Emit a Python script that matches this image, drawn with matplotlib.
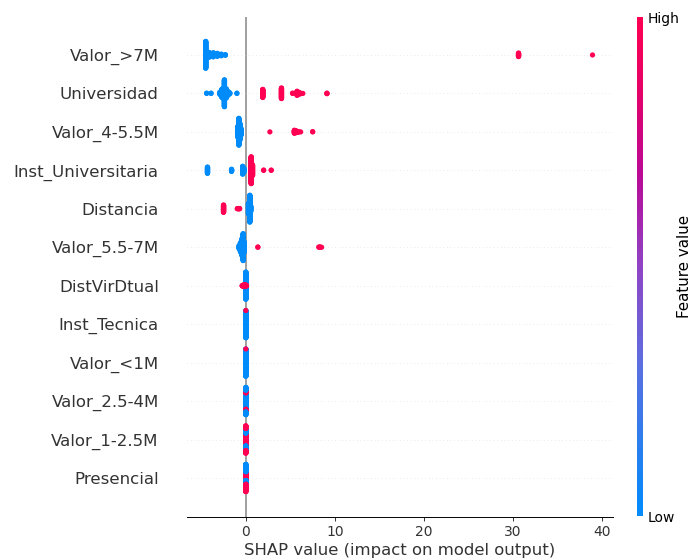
import numpy as np
import matplotlib
matplotlib.use('Agg')
import matplotlib.pyplot as plt
from matplotlib.colors import LinearSegmentedColormap

# features, top to bottom
features = ['Valor_>7M', 'Universidad', 'Valor_4-5.5M', 'Inst_Universitaria',
            'Distancia', 'Valor_5.5-7M', 'DistVirDtual', 'Inst_Tecnica',
            'Valor_<1M', 'Valor_2.5-4M', 'Valor_1-2.5M', 'Presencial']

# clusters: (shap value, number of samples, feature value)
# feature value 0 = low, 1 = high; a pair (below, above) splits a stack by side
valor_7m = [(-4.5, 100, 0), (-4.1, 18, 0), (-3.65, 16, 0), (-3.2, 12, 0),
            (-2.75, 7, 0), (-2.3, 3, 0), (30.6, 14, 1), (38.9, 1, 1)]
universidad = [(-4.4, 2, 0), (-3.9, 2, 0), (-2.9, 10, 0), (-2.7, 30, 0),
               (-2.55, 38, 0), (-2.4, 100, 0), (-2.2, 35, 0), (-2.0, 15, 0),
               (-1.8, 4, 0), (-1.0, 2, 0),
               (1.9, 31, 1), (4.0, 40, 1), (5.25, 2, 1), (5.75, 16, 1),
               (5.95, 8, 1), (6.15, 3, 1), (6.4, 1, 1), (9.1, 3, 1)]
valor_45 = [(-0.9, 40, 0), (-0.78, 100, 0), (-0.66, 60, 0), (-0.54, 25, 0),
            (2.7, 1, 1), (5.45, 12, 1), (5.65, 8, 1), (5.9, 3, 1), (6.15, 1, 1),
            (7.5, 2, 1)]
inst_univ = [(-4.3, 24, 0), (-1.6, 9, 0), (-0.35, 30, 0), (-0.2, 12, 0),
             (0.6, 100, 1), (0.75, 40, 1), (2.0, 2, 1), (2.85, 2, 1)]
distancia = [(-2.5, 28, 1), (-0.95, 2, 1), (-0.8, 2, 1), (-0.7, 2, 1),
             (0.3, 40, 0), (0.45, 100, 0), (0.55, 20, 0)]
valor_557 = [(-0.75, 12, 0), (-0.6, 35, 0), (-0.45, 60, 0), (-0.3, 100, 0),
             (-0.2, 40, 0), (1.35, 2, 1), (8.2, 2, 1), (8.35, 2, 1), (8.5, 1, 1)]
distvirtual = [(0.0, 160, 0), (-0.4, 3, 1), (-0.28, 8, 1), (-0.16, 12, 1),
               (-0.05, 10, 1), (0.07, 4, 1)]
inst_tecnica = [(0.0, 199, 0), (0.0, 1, 1)]
valor_1m = [(0.0, 199, 0), (0.0, 1, 1)]
valor_254 = [(0.0, 8, 1), (0.0, 110, 0), (0.0, 40, 1), (0.0, 42, 0)]
valor_125 = [(0.0, 12, 0), (0.0, 80, 1), (0.0, 68, 0), (0.0, 40, 1)]
presencial = [(0.0, 30, 1), (0.0, 60, (0, 1)), (0.0, 110, (1, 0))]

rows = [valor_7m, universidad, valor_45, inst_univ, distancia, valor_557,
        distvirtual, inst_tecnica, valor_1m, valor_254, valor_125, presencial]

cmap = LinearSegmentedColormap.from_list('red_blue', [
    (0.0, '#008bfb'), (0.3, '#5b6fe0'), (0.5, '#8f44c4'),
    (0.68, '#b80a98'), (0.85, '#e40068'), (1.0, '#ff0052')])


def swarm(clusters, nbins=100, row_height=0.4):
    vals = np.concatenate([np.full(c, float(v)) for v, c, _ in clusters])
    fvs = [fv for v, c, fv in clusters for _ in range(c)]
    lo, hi = vals.min(), vals.max()
    quant = np.round(nbins * (vals - lo) / (hi - lo + 1e-8))
    order = np.argsort(quant, kind='stable')
    ys = np.zeros(len(vals))
    layer, last = 0, None
    for i in order:
        if quant[i] != last:
            layer = 0
        ys[i] = np.ceil(layer / 2) * ((layer % 2) * 2 - 1)
        layer += 1
        last = quant[i]
    ys *= 0.9 * (row_height / np.max(ys + 1))
    cvals = []
    for fv, y in zip(fvs, ys):
        if isinstance(fv, tuple):
            cvals.append(fv[0] if y < 0 else fv[1])
        else:
            cvals.append(fv)
    return vals, ys, np.array(cvals, dtype=float)


DPI = 86.5
W, H = 692, 559
fig = plt.figure(figsize=(W / DPI, H / DPI), dpi=DPI)
ax = fig.add_axes([187 / W, 42.5 / H, 426 / W, 500 / H])

n = len(features)
ax.axvline(0, color='#999999', zorder=-1)
for i, (name, clusters) in enumerate(zip(features, rows)):
    pos = n - 1 - i
    ax.axhline(pos, color='#cccccc', lw=0.5, dashes=(1, 5), zorder=-1)
    xs, ys, cv = swarm(clusters)
    ax.scatter(xs, pos + ys, c=cv, cmap=cmap, vmin=0, vmax=1, s=19,
               linewidth=0, alpha=1, zorder=3, rasterized=True)

ax.set_xlim(-6.6, 41.2)
ax.set_ylim(-1, n)
ax.set_yticks(range(n))
ax.set_yticklabels(features[::-1], fontsize=13.8)
ax.tick_params('y', length=20, width=0.5, color='white', pad=3.5)
ax.tick_params(axis='x', labelsize=11.6, color='#333333', labelcolor='#333333')
ax.tick_params(axis='y', labelcolor='#333333')
ax.set_xticks([0, 10, 20, 30, 40])
ax.set_xlabel('SHAP value (impact on model output)', fontsize=13.7,
              color='#333333', labelpad=3)
for side in ['top', 'right', 'left']:
    ax.spines[side].set_visible(False)

cax = fig.add_axes([637 / W, 43 / H, 6 / W, 499 / H])
sm = plt.cm.ScalarMappable(cmap=cmap)
sm.set_array([0, 1])
cb = fig.colorbar(sm, cax=cax, ticks=[0, 1])
cb.set_ticklabels(['Low', 'High'])
cb.set_label('Feature value', size=12.6, labelpad=-2)
cb.ax.tick_params(labelsize=11.6, length=0)
cb.outline.set_visible(False)

fig.savefig('out.png', dpi=DPI)
